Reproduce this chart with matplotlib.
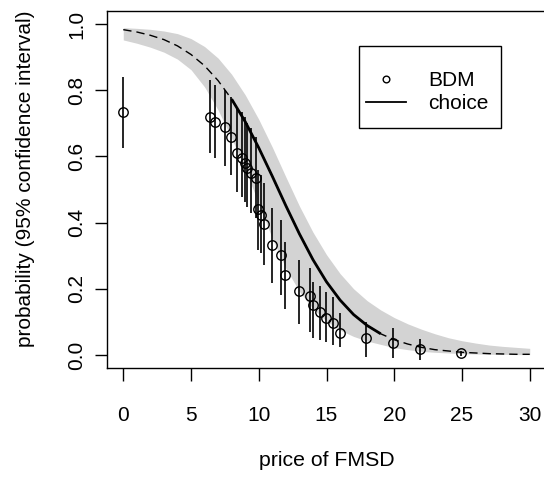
import numpy as np
import matplotlib
matplotlib.use("Agg")
from matplotlib import pyplot as plt
from matplotlib.lines import Line2D
from matplotlib.patches import Rectangle

plt.rcParams["font.family"] = ["Liberation Sans", "DejaVu Sans"]

# BDM estimates with 95% intervals
bdm_price = [0, 6.4, 6.8, 7.5, 7.95, 8.4, 8.75, 8.95, 9.15, 9.45, 9.8, 9.95, 10.15,
             10.4, 10.95, 11.65, 11.95, 12.95, 13.8, 14.0, 14.5, 14.95, 15.5, 16.0,
             17.9, 19.9, 21.9, 24.9]
bdm_prob = [0.735, 0.720, 0.705, 0.689, 0.658, 0.611, 0.595, 0.580, 0.566, 0.549,
            0.534, 0.440, 0.423, 0.395, 0.332, 0.302, 0.241, 0.194, 0.179, 0.151,
            0.129, 0.111, 0.098, 0.066, 0.050, 0.035, 0.019, 0.005]
bdm_lo = [0.624, 0.609, 0.594, 0.572, 0.543, 0.493, 0.476, 0.462, 0.447, 0.430,
          0.414, 0.317, 0.308, 0.272, 0.217, 0.181, 0.140, 0.094, 0.070, 0.050,
          0.045, 0.040, 0.030, 0.025, -0.005, -0.010, -0.015, -0.003]
bdm_hi = [0.841, 0.831, 0.816, 0.802, 0.780, 0.750, 0.735, 0.720, 0.700, 0.685,
          0.660, 0.559, 0.545, 0.520, 0.443, 0.408, 0.340, 0.286, 0.262, 0.220,
          0.208, 0.190, 0.176, 0.126, 0.100, 0.081, 0.047, 0.013]

# choice model curve and its 95% band, read at whole prices
curve_price = list(range(0, 31))
curve_prob = [0.983, 0.976, 0.966, 0.953, 0.934, 0.908, 0.874, 0.829, 0.773, 0.705,
              0.626, 0.540, 0.451, 0.366, 0.288, 0.221, 0.166, 0.122, 0.089, 0.064,
              0.046, 0.033, 0.023, 0.016, 0.012, 0.008, 0.006, 0.004, 0.003, 0.002,
              0.002]
band_hi = [0.989, 0.987, 0.984, 0.979, 0.971, 0.956, 0.932, 0.897, 0.848, 0.786,
           0.712, 0.628, 0.538, 0.450, 0.371, 0.303, 0.246, 0.200, 0.164, 0.136,
           0.113, 0.094, 0.078, 0.064, 0.052, 0.043, 0.036, 0.030, 0.026, 0.023,
           0.020]
band_lo = [0.952, 0.942, 0.930, 0.915, 0.894, 0.862, 0.810, 0.740, 0.655, 0.560,
           0.458, 0.352, 0.262, 0.192, 0.140, 0.102, 0.075, 0.056, 0.042, 0.032,
           0.022, 0.016, 0.011, 0.008, 0.006, 0.004, 0.003, 0.002, 0.002, 0.001,
           0.001]
choice_range = (8, 19)  # prices actually offered in the choice task

fig = plt.figure(figsize=(5.44, 4.84), dpi=100)
ax = fig.add_axes([107/544, 1-368.2/484, 439/544, 357.4/484])

cp = np.array(curve_price)
cy = np.array(curve_prob)
ax.fill_between(cp, band_lo, band_hi, color="#d3d3d3", linewidth=0, zorder=1)
ax.plot(cp, cy, color="black", lw=1.0, ls=(0, (6, 3.6)), zorder=2)
sel = (cp >= choice_range[0]) & (cp <= choice_range[1])
ax.plot(cp[sel], cy[sel], color="black", lw=2.0, solid_capstyle="butt", zorder=3)

ax.vlines(bdm_price, bdm_lo, bdm_hi, color="black", lw=1.2, zorder=4)
ax.plot(bdm_price, bdm_prob, "o", ms=6.8, mfc="none", mec="black", mew=1.0, zorder=5)

ax.set_xlim(-1.2, 31.2)
ax.set_ylim(-0.04, 1.04)
ax.set_xticks(range(0, 31, 5))
ax.set_yticks(np.arange(0, 1.01, 0.2))
ax.set_yticklabels(["0.0", "0.2", "0.4", "0.6", "0.8", "1.0"])
ax.tick_params(direction="out", length=9, width=1.0, labelsize=15)
ax.tick_params(axis="x", pad=18)
ax.tick_params(axis="y", pad=6)
for lab in ax.get_yticklabels():
    lab.set_rotation(90)
    lab.set_va("center")
for s in ax.spines.values():
    s.set_linewidth(1.0)

fig.text(326.5/544, 1-466/484, "price of FMSD", ha="center", va="baseline", fontsize=15.3)
fig.text(31/544, 1-179/484, "probability (95% confidence interval)", rotation=90,
         rotation_mode="anchor", ha="center", va="baseline", fontsize=15)

# legend: R-style box with more room above and below than at the sides
handles = [Line2D([], [], ls="none", marker="o", ms=4.8, mfc="none", mec="black", mew=1.0),
           Line2D([], [], color="black", lw=1.3)]
leg = ax.legend(handles, ["BDM", "choice"], loc="upper left",
                bbox_to_anchor=(366/544, 1-71/484), bbox_transform=fig.transFigure,
                borderaxespad=0, borderpad=0, fontsize=15, frameon=False,
                handlelength=1.92, handletextpad=1.05, labelspacing=0.2)
fig.patches.append(Rectangle((359.3/544, 1-128.3/484), 141.7/544, 82.3/484,
                             transform=fig.transFigure, fill=False,
                             edgecolor="black", linewidth=1.0))

fig.savefig("out.png", dpi=100)
